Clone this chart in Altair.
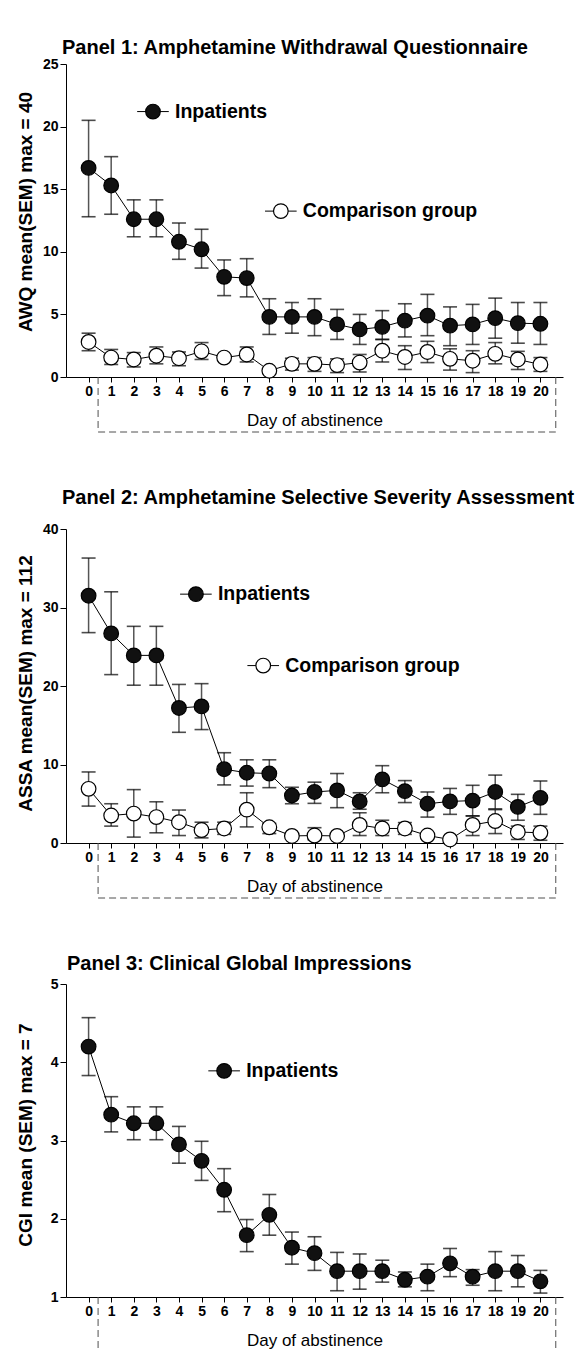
import altair as alt
import pandas as pd

days = list(range(21))

# Panel 1: AWQ
awq_in_mean = [16.7, 15.3, 12.6, 12.6, 10.8, 10.2, 8.0, 7.9, 4.8, 4.8, 4.8, 4.2, 3.8, 4.0, 4.5, 4.9, 4.1, 4.2, 4.7, 4.3, 4.25]
awq_in_lo = [12.8, 13.0, 11.2, 11.2, 9.4, 8.7, 6.5, 6.4, 3.4, 3.5, 3.3, 3.0, 2.6, 3.0, 3.2, 3.3, 2.5, 2.6, 3.1, 2.7, 2.6]
awq_in_hi = [20.5, 17.6, 14.15, 14.15, 12.3, 11.8, 9.35, 9.45, 6.25, 5.95, 6.25, 5.4, 5.0, 5.3, 5.85, 6.6, 5.6, 5.8, 6.3, 5.95, 5.95]
awq_cmp_mean = [2.8, 1.55, 1.4, 1.7, 1.5, 2.05, 1.55, 1.8, 0.5, 1.05, 1.05, 0.95, 1.15, 2.1, 1.6, 2.0, 1.45, 1.3, 1.85, 1.4, 1.0]
awq_cmp_lo = [2.1, 1.0, 0.8, 1.05, 0.9, 1.4, 1.55, 1.2, 0.5, 0.55, 0.45, 0.35, 0.4, 1.2, 0.6, 1.15, 0.55, 0.35, 1.05, 0.6, 0.45]
awq_cmp_hi = [3.5, 2.2, 1.95, 2.4, 2.0, 2.75, 1.55, 2.4, 0.5, 1.5, 1.55, 1.45, 1.8, 3.0, 2.5, 2.85, 2.25, 2.1, 2.75, 2.05, 1.55]

# Panel 2: ASSA
assa_in_mean = [31.5, 26.7, 23.9, 23.9, 17.2, 17.4, 9.4, 8.95, 8.85, 6.05, 6.5, 6.7, 5.3, 8.1, 6.6, 5.0, 5.3, 5.4, 6.5, 4.6, 5.75]
assa_in_lo = [26.8, 21.45, 20.1, 20.1, 14.1, 14.45, 7.4, 7.25, 7.05, 5.0, 5.05, 4.5, 4.3, 6.4, 5.15, 3.3, 3.65, 3.45, 4.35, 2.9, 3.65]
assa_in_hi = [36.3, 32.0, 27.6, 27.6, 20.2, 20.3, 11.5, 10.6, 10.6, 7.1, 7.75, 8.85, 6.4, 9.85, 7.95, 6.5, 6.95, 7.35, 8.65, 6.2, 7.9]
assa_cmp_mean = [6.9, 3.5, 3.75, 3.3, 2.65, 1.65, 1.85, 4.25, 2.0, 0.9, 0.95, 0.9, 2.3, 1.85, 1.85, 0.95, 0.45, 2.3, 2.8, 1.4, 1.3]
assa_cmp_lo = [4.7, 2.15, 0.75, 1.3, 0.95, 0.65, 1.1, 2.05, 1.2, 0.9, 0.4, 0.9, 0.95, 0.95, 1.1, 0.95, 0.45, 0.95, 1.2, 0.45, 0.35]
assa_cmp_hi = [9.05, 5.0, 6.8, 5.25, 4.2, 2.65, 2.65, 6.4, 2.5, 0.9, 1.95, 0.9, 3.85, 2.9, 2.6, 0.95, 0.45, 3.45, 4.25, 2.15, 2.15]

# Panel 3: CGI
cgi_in_mean = [4.2, 3.33, 3.22, 3.22, 2.95, 2.74, 2.37, 1.79, 2.05, 1.63, 1.56, 1.33, 1.33, 1.33, 1.22, 1.26, 1.43, 1.26, 1.33, 1.33, 1.2]
cgi_in_lo = [3.83, 3.11, 3.01, 3.01, 2.71, 2.49, 2.09, 1.58, 1.79, 1.42, 1.34, 1.08, 1.1, 1.19, 1.13, 1.08, 1.26, 1.15, 1.08, 1.13, 1.05]
cgi_in_hi = [4.57, 3.56, 3.43, 3.43, 3.18, 2.99, 2.64, 1.99, 2.31, 1.83, 1.77, 1.57, 1.55, 1.47, 1.32, 1.42, 1.62, 1.35, 1.58, 1.53, 1.34]

titles = ["Panel 1: Amphetamine Withdrawal Questionnaire",
          "Panel 2: Amphetamine Selective Severity Assessment",
          "Panel 3: Clinical Global Impressions"]
y_titles = ["AWQ mean(SEM) max = 40", "ASSA mean(SEM) max = 112", "CGI mean (SEM) max = 7"]
group_names = ["Inpatients", "Comparison group"]

# legend anchor points (day, value)
legend_p1 = {"x": [2.85, 8.51], "y": [21.2, 13.25]}
legend_p2 = {"x": [4.75, 7.73], "y": [31.7, 22.6]}
legend_p3 = {"x": [6.0], "y": [3.89]}

bracket_days = [0.42, 20.68]

FONT = "Liberation Sans"
W = 497
H = 313
DASH = [7, 4]
DASHCOL = "#505050"


def panel(title, ytitle, ydom, ystep, series, legend, t_offset, t_dx, full_bracket,
          height=H, ytitle_shift=0):
    x_scale = alt.Scale(domain=[-1, 21], nice=False, zero=False)
    y_scale = alt.Scale(domain=ydom, nice=False, zero=False)
    x_axis = alt.Axis(
        values=days, format="d", title="Day of abstinence", labelOverlap=False,
        tickSize=5, labelPadding=2, tickCount=21,
        labelFontSize=14, labelFontWeight="bold",
        titleFontSize=17, titleFontWeight="normal", titlePadding=14)
    y_axis = alt.Axis(
        values=list(range(ydom[0], ydom[1] + 1, ystep)), format="d", title=ytitle,
        labelOverlap=False, tickSize=6, labelPadding=2,
        labelFontSize=14, labelFontWeight="bold",
        titleFontSize=19, titleFontWeight="bold",
        titleX=-41, titleY=height / 2 + ytitle_shift, titleBaseline="middle", titleAngle=270)

    def X(f):
        return alt.X(f, type="quantitative", scale=x_scale, axis=x_axis)

    def Y(f):
        return alt.Y(f, type="quantitative", scale=y_scale, axis=y_axis)

    layers = []
    # bracket
    bdf = pd.DataFrame({"bx": bracket_days})
    layers.append(alt.Chart(bdf).mark_rule(color=DASHCOL, strokeDash=DASH, strokeWidth=1).encode(
        x=X("bx"), y=alt.value(height), y2=alt.value(height + 55)))
    if full_bracket:
        bdf2 = pd.DataFrame({"bx": [bracket_days[0]], "bx2": [bracket_days[1]]})
        layers.append(alt.Chart(bdf2).mark_rule(color=DASHCOL, strokeDash=DASH, strokeWidth=1).encode(
            x=X("bx"), x2="bx2:Q", y=alt.value(height + 55)))
    for i, (m, lo, hi) in enumerate(series):
        df = pd.DataFrame({"day": days, "mean": m, "lo": lo, "hi": hi})
        fill = "#111111" if i == 0 else "white"
        base = alt.Chart(df)
        layers.append(base.mark_rule(color="#555555", strokeWidth=1.5).encode(
            x=X("day"), y=Y("lo"), y2="hi:Q"))
        for f in ("hi", "lo"):
            layers.append(base.mark_tick(orient="horizontal", size=14, thickness=1.6,
                                         color="black").encode(x=X("day"), y=Y(f)))
        layers.append(base.mark_line(color="black", strokeWidth=1).encode(
            x=X("day"), y=Y("mean")))
        layers.append(base.mark_point(filled=True, shape="circle", size=215, fill=fill,
                                      stroke="black", strokeWidth=1.2, opacity=1).encode(
            x=X("day"), y=Y("mean")))
    # legend
    n = len(legend["x"])
    ldf = pd.DataFrame({
        "lx": legend["x"], "ly": legend["y"],
        "lx1": [v - 0.7 for v in legend["x"]], "lx2": [v + 0.7 for v in legend["x"]],
        "label": group_names[:n], "fill": ["#111111", "white"][:n]})
    lb = alt.Chart(ldf)
    layers.append(lb.mark_rule(color="black", strokeWidth=1).encode(
        x=X("lx1"), x2="lx2:Q", y=Y("ly")))
    layers.append(lb.mark_point(filled=True, shape="circle", size=215, stroke="black",
                                strokeWidth=1.2, opacity=1).encode(
        x=X("lx"), y=Y("ly"), fill=alt.Fill("fill:N", scale=None)))
    layers.append(lb.mark_text(align="left", baseline="middle", dx=22, fontSize=19.5,
                               fontWeight="bold", color="black", font=FONT).encode(
        x=X("lx"), y=Y("ly"), text="label:N"))
    return alt.layer(*layers).properties(
        width=W, height=height,
        title=alt.TitleParams(text=title, anchor="start", frame="group", fontSize=20,
                              fontWeight="bold", color="black", font=FONT,
                              offset=t_offset, dx=t_dx, baseline="alphabetic"))


p1 = panel(titles[0], y_titles[0], [0, 25], 5,
           [(awq_in_mean, awq_in_lo, awq_in_hi), (awq_cmp_mean, awq_cmp_lo, awq_cmp_hi)],
           legend_p1, -17, -4, True, ytitle_shift=-9)
p2 = panel(titles[1], y_titles[1], [0, 40], 10,
           [(assa_in_mean, assa_in_lo, assa_in_hi), (assa_cmp_mean, assa_cmp_lo, assa_cmp_hi)],
           legend_p2, -2, -4, True, height=314, ytitle_shift=-3)
p3 = panel(titles[2], y_titles[2], [1, 5], 1,
           [(cgi_in_mean, cgi_in_lo, cgi_in_hi)],
           legend_p3, -13, 1, False, ytitle_shift=-6)

chart = alt.vconcat(p1, p2, p3, spacing=55).properties(
    padding={"left": 15, "top": 38, "right": 0, "bottom": 0}
).configure(font=FONT).configure_view(stroke=None).configure_axis(
    grid=False, labelFontSize=14, labelFontWeight="bold", labelColor="black",
    tickColor="black", domainColor="black", titleColor="black", labelFlush=False,
    labelFont=FONT, titleFont=FONT
)

chart.save("out.html", embed_options={"renderer": "svg", "actions": False})
